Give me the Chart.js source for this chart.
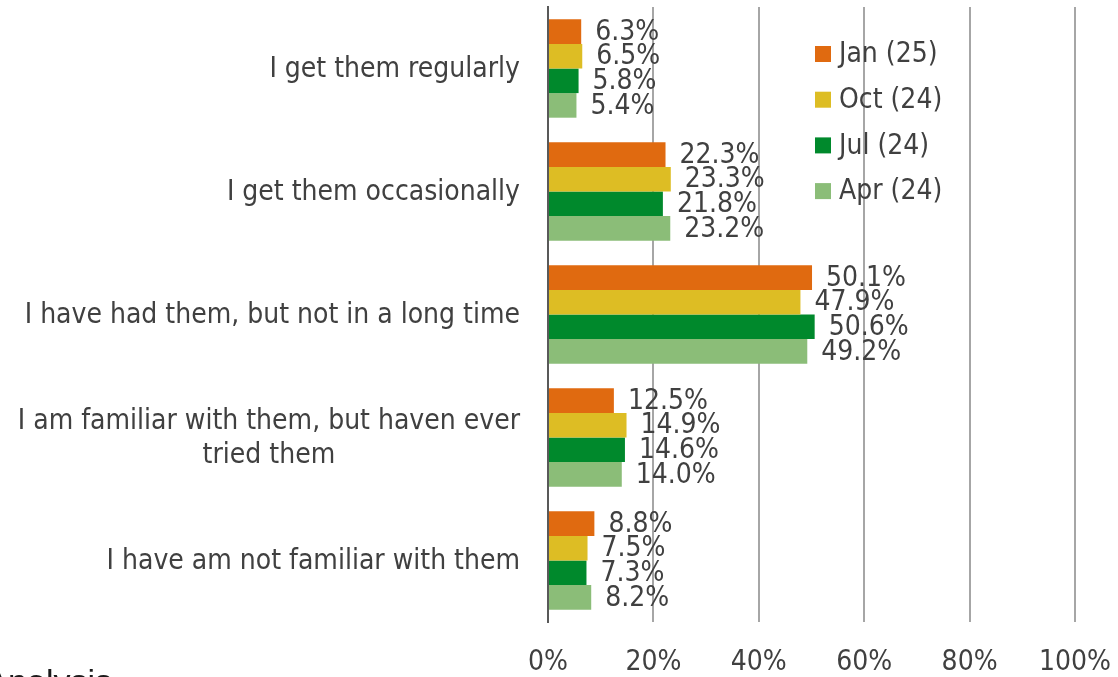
<!DOCTYPE html>
<html>
<head>
<meta charset="utf-8">
<script src="https://cdn.jsdelivr.net/npm/chart.js@4.4.1/dist/chart.umd.min.js"></script>
<style>
  html, body { margin: 0; padding: 0; background: #fff; }
  #wrap { width: 1118px; height: 677px; position: relative; }
</style>
</head>
<body>
<div id="wrap"><canvas id="chart"></canvas></div>
<script>
// categories and series (percent)
const categories = [
  ['I get them regularly'],
  ['I get them occasionally'],
  ['I have had them, but not in a long time'],
  ['I am familiar with them, but haven ever', 'tried them'],
  ['I have am not familiar with them']
];
const seriesNames = ['Jan (25)', 'Oct (24)', 'Jul (24)', 'Apr (24)'];
const jan25 = [6.3, 22.3, 50.1, 12.5, 8.8];
const oct24 = [6.5, 23.3, 47.9, 14.9, 7.5];
const jul24 = [5.8, 21.8, 50.6, 14.6, 7.3];
const apr24 = [5.4, 23.2, 49.2, 14.0, 8.2];
const xTicks = [0, 20, 40, 60, 80, 100];

const colors = ['#E06A10', '#DDBD24', '#00892C', '#8BBD78'];
const FONT = '"DejaVu Sans Condensed", "DejaVu Sans", sans-serif';
const TXT = '#404040';
const FS = 28;

// labels next to the bar ends
const valueLabels = {
  id: 'valueLabels',
  afterDatasetsDraw(chart) {
    const ctx = chart.ctx;
    ctx.save();
    ctx.font = FS + 'px ' + FONT;
    ctx.fillStyle = TXT;
    ctx.textAlign = 'left';
    ctx.textBaseline = 'middle';
    chart.data.datasets.forEach((ds, i) => {
      chart.getDatasetMeta(i).data.forEach((bar, j) => {
        ctx.fillText(ds.data[j].toFixed(1) + '%', bar.x + 14, bar.y + 1);
      });
    });
    ctx.restore();
  }
};

// category labels (multi-line ones centred on their own block) + legend + footer
const extras = {
  id: 'extras',
  afterDraw(chart) {
    const ctx = chart.ctx;
    const yScale = chart.scales.y;
    ctx.save();
    ctx.font = FS + 'px ' + FONT;
    ctx.fillStyle = TXT;
    ctx.textBaseline = 'middle';
    ctx.textAlign = 'center';
    categories.forEach((lines, i) => {
      const yc = yScale.getPixelForValue(i);
      const w = Math.max(...lines.map(l => ctx.measureText(l).width));
      const cx = 520 - w / 2;
      const lh = 34;
      lines.forEach((l, k) => {
        ctx.fillText(l, cx, yc + (k - (lines.length - 1) / 2) * lh + 1);
      });
    });

    // legend
    ctx.textAlign = 'left';
    seriesNames.forEach((name, i) => {
      const y = 54 + i * 45.7;
      ctx.fillStyle = colors[i];
      ctx.fillRect(815, y - 8, 16, 16);
      ctx.fillStyle = TXT;
      ctx.fillText(name, 839, y + 1);
    });

    // cut-off source text at the bottom
    ctx.font = '34px "Liberation Sans", Arial, sans-serif';
    ctx.fillStyle = '#1a1a1a';
    ctx.textAlign = 'right';
    ctx.textBaseline = 'alphabetic';
    ctx.fillText('Analysis', 112, 693);
    ctx.restore();
  }
};

const datasets = [jan25, oct24, jul24, apr24].map((d, i) => ({
  label: seriesNames[i],
  data: d,
  backgroundColor: colors[i],
  borderWidth: 0,
  categoryPercentage: 0.8,
  barPercentage: 1.0
}));

new Chart(document.getElementById('chart'), {
  type: 'bar',
  data: {
    labels: categories.map(c => c.join(' ')),
    datasets: datasets
  },
  options: {
    indexAxis: 'y',
    responsive: true,
    maintainAspectRatio: false,
    animation: false,
    layout: { padding: { top: 7, right: 43, left: 0, bottom: 0 } },
    plugins: {
      legend: { display: false },
      tooltip: { enabled: false }
    },
    scales: {
      x: {
        min: 0,
        max: 100,
        afterBuildTicks(scale) {
          scale.ticks = xTicks.map(v => ({ value: v }));
        },
        afterFit(scale) {
          scale.height = 55;
          scale.paddingLeft = 0;
          scale.paddingRight = 0;
        },
        ticks: {
          callback: v => v + '%',
          color: TXT,
          font: { family: FONT, size: FS },
          padding: 24,
          maxRotation: 0
        },
        grid: { color: '#A6A6A6', lineWidth: 2, drawTicks: false },
        border: { display: false }
      },
      y: {
        afterFit(scale) { scale.width = 548; },
        ticks: { display: false },
        grid: { display: false, drawTicks: false },
        border: { display: true, color: '#595959', width: 2 }
      }
    }
  },
  plugins: [valueLabels, extras]
});
</script>
</body>
</html>
